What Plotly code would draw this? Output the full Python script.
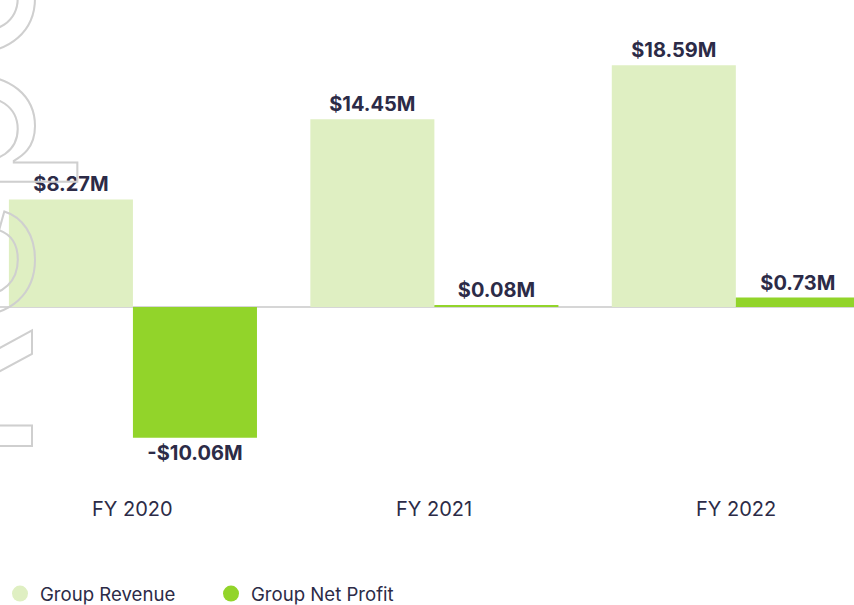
import plotly.graph_objects as go

categories = ["FY 2020", "FY 2021", "FY 2022"]
revenue = [8.27, 14.45, 18.59]
net_profit = [-10.06, 0.08, 0.73]
series_names = ["Group Revenue", "Group Net Profit"]

REV_COLOR = "#dfefc2"
PROFIT_COLOR = "#92d42a"
TEXT_COLOR = "#2c2b47"
FONT = "Inter"

PX_PER_UNIT = 13.0
ZERO_PX = 307
H = 605
Y_RANGE = [-(H - ZERO_PX) / PX_PER_UNIT, ZERO_PX / PX_PER_UNIT]
X_RANGE = [-0.441, 2.392]


def fmt(v):
    return ("-$" if v < 0 else "$") + f"{abs(v):.2f}M"


fig = go.Figure()
fig.add_trace(go.Bar(
    x=categories, y=revenue, name=series_names[0],
    marker=dict(color=REV_COLOR, line=dict(width=0)),
    text=[fmt(v) for v in revenue], textposition="outside",
    textfont=dict(family=FONT, size=20, color=TEXT_COLOR, weight="bold"),
    cliponaxis=False, showlegend=False, hoverinfo="skip",
))
fig.add_trace(go.Bar(
    x=categories, y=net_profit, name=series_names[1],
    marker=dict(color=PROFIT_COLOR, line=dict(width=0)),
    text=[fmt(v) for v in net_profit], textposition="outside",
    textfont=dict(family=FONT, size=20, color=TEXT_COLOR, weight="bold"),
    cliponaxis=False, showlegend=False, hoverinfo="skip",
))
# legend entries with circular markers
for name, col in zip(series_names, [REV_COLOR, PROFIT_COLOR]):
    fig.add_trace(go.Scatter(
        x=[None], y=[None], mode="markers", name=name,
        marker=dict(symbol="circle", size=20, color=col),
    ))

annotations = []
for c in categories:
    annotations.append(dict(
        x=c, xref="x", y=1 - 509 / 605, yref="paper",
        text=c, showarrow=False, xanchor="center", yanchor="middle",
        font=dict(family=FONT, size=20, color=TEXT_COLOR),
    ))
# decorative outlined background word (anchored inside the axes, shifted out)
annotations.append(dict(
    x=X_RANGE[0] + 0.001, xref="x", y=(ZERO_PX - 120) / PX_PER_UNIT, yref="y",
    xshift=-48, text="Report", showarrow=False, textangle=-90,
    font=dict(family=FONT, size=220, color="#cccccc"),
    xanchor="center", yanchor="middle",
))

fig.update_layout(
    width=854, height=605,
    margin=dict(l=0, r=0, t=0, b=0, autoexpand=False),
    paper_bgcolor="white", plot_bgcolor="white",
    barmode="group", bargap=0.177, bargroupgap=0,
    xaxis=dict(range=X_RANGE, showticklabels=False, showgrid=False,
               zeroline=False, showline=False, fixedrange=True),
    yaxis=dict(range=Y_RANGE, showticklabels=False,
               showgrid=False, zeroline=True, zerolinecolor="#d6d6d6",
               zerolinewidth=2, showline=False, fixedrange=True),
    showlegend=True,
    legend=dict(orientation="h", x=0, xanchor="left", y=1 - 594 / 605,
                yanchor="middle", font=dict(family=FONT, size=18.6, color=TEXT_COLOR),
                bgcolor="rgba(0,0,0,0)", entrywidth=166, entrywidthmode="pixels",
                itemclick=False, itemdoubleclick=False),
    annotations=annotations,
    font=dict(family=FONT, color=TEXT_COLOR),
)

post = """
document.body.style.margin = '0';
document.body.style.padding = '0';
var gd = document.getElementById('{plot_id}');
gd.querySelectorAll('.annotation-text').forEach(function(t){
  if (t.textContent === 'Report') {
    t.style.fill = 'none';
    t.style.stroke = '#cfcfcf';
    t.style.strokeWidth = '2px';
  }
});
"""

fig.write_html("out.html", post_script=post, config={"displayModeBar": False})
